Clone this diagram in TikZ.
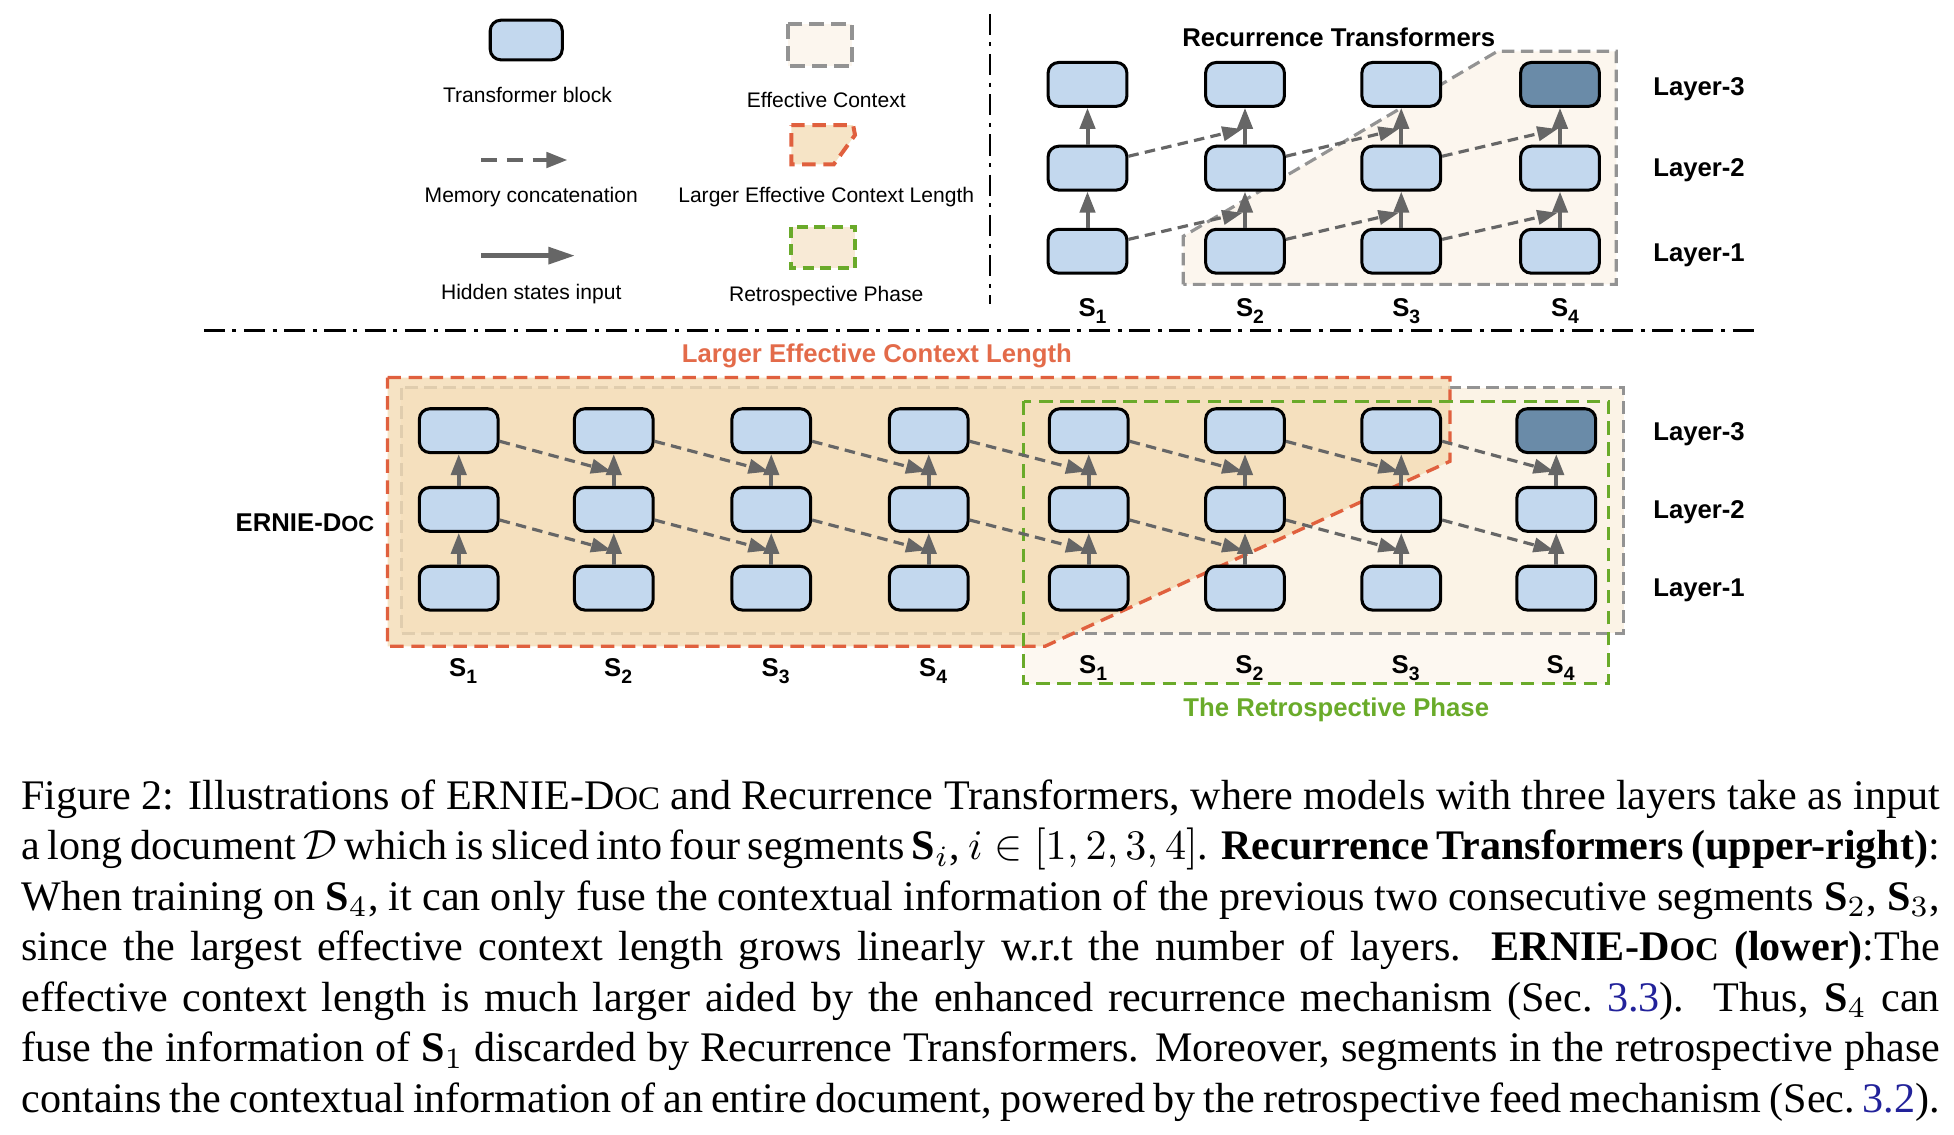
\documentclass[tikz,border=0pt]{standalone}
\usepackage{fontspec}
\setmainfont{Liberation Serif}
\setsansfont{Liberation Sans}
\usetikzlibrary{arrows.meta,calc}
\definecolor{blockblue}{HTML}{C3D8EE}
\definecolor{darkblue}{HTML}{6A8BA8}
\definecolor{arrowgrey}{HTML}{666666}
\definecolor{regiongrey}{HTML}{939393}
\definecolor{ecfill}{HTML}{FCF6EE}
\definecolor{ecfillb}{HTML}{FBF3E6}
\definecolor{retrofill}{HTML}{FDF8F1}
\definecolor{orangeline}{HTML}{E0603E}
\definecolor{orangefill}{HTML}{F4DCB5}
\definecolor{orangeicon}{HTML}{F6E4C6}
\definecolor{greenline}{HTML}{6AAA2A}
\definecolor{greenicon}{HTML}{F8EAD6}
\definecolor{orangetext}{HTML}{E36B4A}
\definecolor{greentext}{HTML}{6AAB2A}
\definecolor{linkblue}{HTML}{22229A}
\newcommand\erniecap{ERNIE-D{\fontsize{7.8}{9}\selectfont OC}}
\newcommand\ernielab{ERNIE-D{\fontsize{5.2}{6}\selectfont OC}}
\newcommand\seglab[1]{S\raisebox{-0.5ex}{\fontsize{4.6}{5}\selectfont #1}}
\newcommand\bS{\textbf{S}}
\begin{document}
\begin{tikzpicture}[x=0.2967pt,y=-0.2967pt,
  tblock/.style={draw=black, line width=0.72pt, rounded corners=2.5pt, fill=blockblue,
    minimum width=18.7pt, minimum height=10.4pt, inner sep=0pt},
  dblock/.style={tblock, fill=darkblue},
  hid/.style={draw=arrowgrey, line width=0.95pt, -{Triangle[length=5pt,width=3.6pt]}},
  mem/.style={draw=arrowgrey, line width=0.75pt, dash pattern=on 2.5pt off 1.5pt,
    -{Triangle[length=4.8pt,width=3.4pt]}},
  legtext/.style={font=\fontsize{5}{6}\selectfont\sffamily, inner sep=0pt},
  boldlab/.style={font=\fontsize{6.1}{7.3}\selectfont\sffamily\bfseries, inner sep=0pt},
  captext/.style={font=\fontsize{10}{12}\selectfont, inner sep=0pt, anchor=base west},
  dashdot/.style={line width=0.63pt, dash pattern=on 5pt off 1.8pt on 0.95pt off 1.8pt},
  greyregion/.style={draw=regiongrey, line width=0.75pt, dash pattern=on 3pt off 1.5pt},
  orangeregion/.style={draw=orangeline, line width=0.8pt, dash pattern=on 3.2pt off 1.8pt},
  greenregion/.style={draw=greenline, line width=0.8pt, dash pattern=on 3.2pt off 1.8pt},
]
\useasboundingbox (0,0) rectangle (1563.2,907.2);

% ---------------- legend ----------------
\node[tblock, minimum width=17.1pt, minimum height=9.4pt] (lgblock) at (421,32) {};
\node[legtext, anchor=base] (lgblocktxt) at (422,82) {Transformer block};
\draw[greyregion, fill=ecfill, line width=0.95pt, dash pattern=on 3.6pt off 1.6pt] (630.5,19.2) rectangle (681.8,52.5);
\node[legtext, anchor=base] (lgectxt) at (661,86) {Effective Context};
\coordinate (lm1) at (385,128);
\coordinate (lm2) at (454,128);
\draw[draw=arrowgrey, line width=1pt, dash pattern=on 3.7pt off 2.4pt, -{Triangle[length=5pt,width=3.6pt]}] (lm1) -- (lm2);
\node[legtext, anchor=base] (lgmemtxt) at (425,162) {Memory concatenation};
\draw[orangeregion, fill=orangeicon, line width=0.95pt] (633,100) -- (682.5,100) -- (684,108) -- (667,131.5) -- (633,131.5) -- cycle;
\node[legtext, anchor=base] (lglectxt) at (661,162) {Larger Effective Context Length};
\coordinate (lh1) at (385,204.5);
\coordinate (lh2) at (460,204.5);
\draw[draw=arrowgrey, line width=1.1pt, -{Triangle[length=6.3pt,width=3.9pt]}] (lh1) -- (lh2);
\node[legtext, anchor=base] (lghidtxt) at (425,239.5) {Hidden states input};
\draw[greenregion, fill=greenicon, line width=0.95pt, dash pattern=on 2.6pt off 1.6pt] (633,181.3) rectangle (684,214.7);
\node[legtext, anchor=base] (lgrettxt) at (661,241.5) {Retrospective Phase};

% separators
\draw[dashdot] (792,11) -- (792,243);
\draw[dashdot] (163,264.5) -- (1404,264.5);

% ---------------- Recurrence Transformers (upper right) ----------------
\draw[greyregion, fill=ecfill] (946.6,227.5) -- (946.6,189) -- (1198,41) -- (1293,41) -- (1293,227.5) -- cycle;
\node[boldlab, anchor=base] (rttitle) at (1071,37.3) {Recurrence Transformers};
\foreach \c/\x/\ts in {1/870/tblock,2/996/tblock,3/1121/tblock,4/1248/dblock} {
  \node[tblock] (t\c1) at (\x,201) {};
  \node[tblock] (t\c2) at (\x,134.5) {};
  \node[\ts] (t\c3) at (\x,67.5) {};
  \node[boldlab, anchor=base] (ts\c) at (\x+4,253) {\seglab{\c}};
}
\foreach \c in {1,...,4} {
  \draw[hid] (t\c1) -- (t\c2);
  \draw[hid] (t\c2) -- (t\c3);
}
\foreach \c/\n in {1/2,2/3,3/4} {
  \foreach \r/\s in {1/2,2/3} {
    \draw[mem] ($(t\c\r.east)+(0,-9.5)$) -- ($(t\n\s.south)+(-2,17)$);
  }
}
\node[boldlab, anchor=base west] (tl3) at (1322,76) {Layer-3};
\node[boldlab, anchor=base west] (tl2) at (1322,141.3) {Layer-2};
\node[boldlab, anchor=base west] (tl1) at (1322,209.3) {Layer-1};

% ---------------- ERNIE-Doc (lower) ----------------
\fill[retrofill] (819,321) rectangle (1287,547);
\draw[greyregion, fill=ecfillb] (321,310) rectangle (1299,506.5);
\draw[orangeregion, fill=orangefill, fill opacity=0.8] (310,302) -- (1160,302) -- (1160,369) -- (836,517) -- (310,517) -- cycle;
\draw[greenregion] (819,321) rectangle (1287,547);
\node[boldlab, anchor=base, text=orangetext] (lectitle) at (701.5,290) {Larger Effective Context Length};
\node[boldlab, anchor=base, text=greentext] (rptitle) at (1069,573) {The Retrospective Phase};
\node[boldlab, anchor=base] (ernie) at (244,425.3) {\ernielab};
\foreach \c/\x/\ts/\lab/\ly in {1/367/tblock/1/541, 2/491/tblock/2/541, 3/617/tblock/3/541, 4/743/tblock/4/541,
    5/871/tblock/1/538.6, 6/996/tblock/2/538.6, 7/1121/tblock/3/538.6, 8/1245/dblock/4/538.6} {
  \node[tblock] (b\c1) at (\x,470.5) {};
  \node[tblock] (b\c2) at (\x,407.5) {};
  \node[\ts] (b\c3) at (\x,344.5) {};
  \node[boldlab, anchor=base] (bs\c) at (\x+3.5,\ly) {\seglab{\lab}};
}
\foreach \c in {1,...,8} {
  \draw[hid] (b\c1) -- (b\c2);
  \draw[hid] (b\c2) -- (b\c3);
}
\foreach \c/\n in {1/2,2/3,3/4,4/5,5/6,6/7,7/8} {
  \foreach \r in {2,3} {
    \draw[mem] ($(b\c\r.east)+(0,8.5)$) -- ($(b\n\r.south)+(-2,14)$);
  }
}
\node[boldlab, anchor=base west] (bl3) at (1322,352) {Layer-3};
\node[boldlab, anchor=base west] (bl2) at (1322,414.6) {Layer-2};
\node[boldlab, anchor=base west] (bl1) at (1322,477) {Layer-1};

% ---------------- caption ----------------
\node[captext] (cap1) at (16.5,647.5) {\hbox to 455.4pt{Figure 2: Illustrations of \erniecap\ and Recurrence Transformers, where models with three layers take as input}};
\node[captext] (cap2) at (16.5,687.9) {\hbox to 455.4pt{a long document $\mathcal{D}$ which is sliced into four segments \bS$_i$, $i \in [1, 2, 3, 4]$. \textbf{Recurrence Transformers (upper-right)}:}};
\node[captext] (cap3) at (16.5,728.3) {\hbox to 455.4pt{When training on \bS$_4$, it can only fuse the contextual information of the previous two consecutive segments \bS$_2$, \bS$_3$,}};
\node[captext] (cap4) at (16.5,768.7) {\hbox to 455.4pt{since the largest effective context length grows linearly w.r.t the number of layers.\ \ \textbf{\erniecap\ (lower)}:The}};
\node[captext] (cap5) at (16.5,809.1) {\hbox to 455.4pt{effective context length is much larger aided by the enhanced recurrence mechanism (Sec.\ \textcolor{linkblue}{3.3}).\ \ Thus, \bS$_4$ can}};
\node[captext] (cap6) at (16.5,849.5) {\hbox to 455.4pt{fuse the information of \bS$_1$ discarded by Recurrence Transformers. Moreover, segments in the retrospective phase}};
\node[captext] (cap7) at (16.5,889.9) {\hbox to 455.4pt{contains the contextual information of an entire document, powered by the retrospective feed mechanism (Sec.\ \textcolor{linkblue}{3.2}).}};
\end{tikzpicture}
\end{document}
